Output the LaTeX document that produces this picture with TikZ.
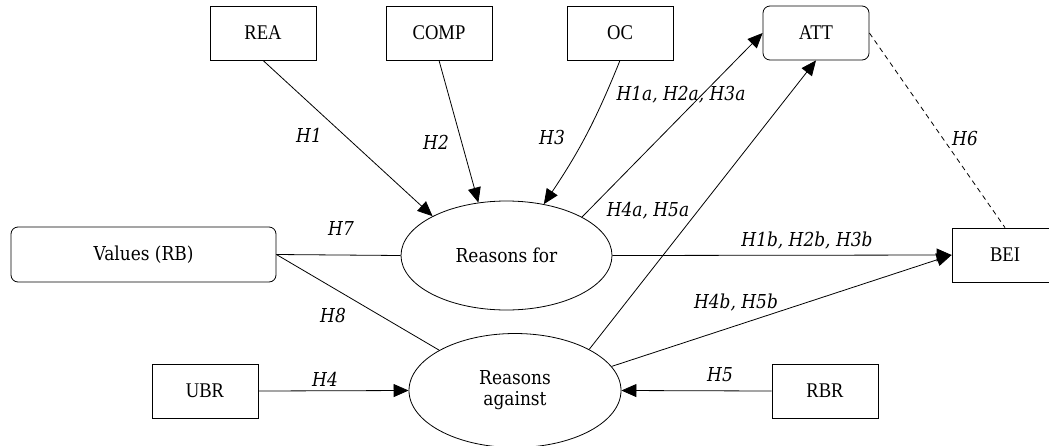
\documentclass[tikz,border=0pt]{standalone}
\usepackage{fontspec}
\setmainfont{DejaVu Serif}[FakeStretch=0.885]
\newfontfamily\boxfont{Liberation Serif}[FakeStretch=0.89]
\usetikzlibrary{arrows.meta,shapes.geometric}
\begin{document}
\begin{tikzpicture}[x=1pt,y=-1pt,
  line width=0.8pt,
  every node/.style={font=\fontsize{19.2}{21}\selectfont},
  sq/.style={draw, rectangle, minimum width=106pt, minimum height=54pt, inner sep=0pt, font=\boxfont\fontsize{20.9}{22}\selectfont},
  rsq/.style={sq, rounded corners=7pt},
  valbox/.style={draw, rectangle, rounded corners=7pt, minimum width=265pt, minimum height=55pt, inner sep=0pt},
  ell/.style={draw, ellipse, inner sep=0pt, align=center},
  arr/.style={-{Triangle[length=15pt,width=13pt]}},
  lab/.style={font=\itshape\fontsize{19.2}{21}\selectfont, inner sep=0pt}
]
\useasboundingbox (0,0) rectangle (1049,445);

\node[sq]  (REA)  at (263,33) {REA};
\node[sq]  (COMP) at (439,33) {COMP};
\node[sq]  (OC)   at (620,33) {OC};
\node[rsq] (ATT)  at (816,33) {ATT};
\node[sq]  (BEI)  at (1005,255) {BEI};
\node[valbox] (Values) at (143.5,254.5) {Values (RB)};
\node[sq]  (UBR)  at (205,391) {UBR};
\node[sq]  (RBR)  at (825,391) {RBR};
\node[ell, minimum width=211pt, minimum height=109pt] (rf) at (506.5,255.5) {Reasons for};
\node[ell, minimum width=212pt, minimum height=114pt] (ra) at (515,390.5) {Reasons\\against};

\draw[arr] (REA.south) -- (rf.152.4);
\draw[arr] (COMP.south) -- (rf.118.5);
\draw[arr] (OC.south) to[bend left=6] (rf.54.4);
\draw[arr] (rf.27.3) -- (ATT.west);
\draw[arr] (ra.29.2) -- (ATT.south);
\draw[dash pattern=on 5pt off 4pt] (ATT.east) -- (BEI.north);
\draw[arr] (rf.east) -- (BEI.west);
\draw[arr] (ra.14.9) -- (BEI.west);
\draw (Values.east) -- (rf.west);
\draw (Values.east) -- (ra.152);
\draw[arr] (UBR.east) -- (ra.west);
\draw[arr] (RBR.west) -- (ra.east);

\node[lab] (l1)  at (309,135) {H1};
\node[lab] (l2)  at (436,142) {H2};
\node[lab] (l3)  at (552,138) {H3};
\node[lab] (l1a) at (681,95)  {H1a, H2a, H3a};
\node[lab] (l4a) at (648,211) {H4a, H5a};
\node[lab] (l6)  at (965,139) {H6};
\node[lab] (l7)  at (341,228) {H7};
\node[lab] (l8)  at (333,316) {H8};
\node[lab] (l4)  at (325,379) {H4};
\node[lab] (l5)  at (720,375) {H5};
\node[lab] (l1b) at (807,241) {H1b, H2b, H3b};
\node[lab] (l4b) at (736,303) {H4b, H5b};
\end{tikzpicture}
\end{document}
